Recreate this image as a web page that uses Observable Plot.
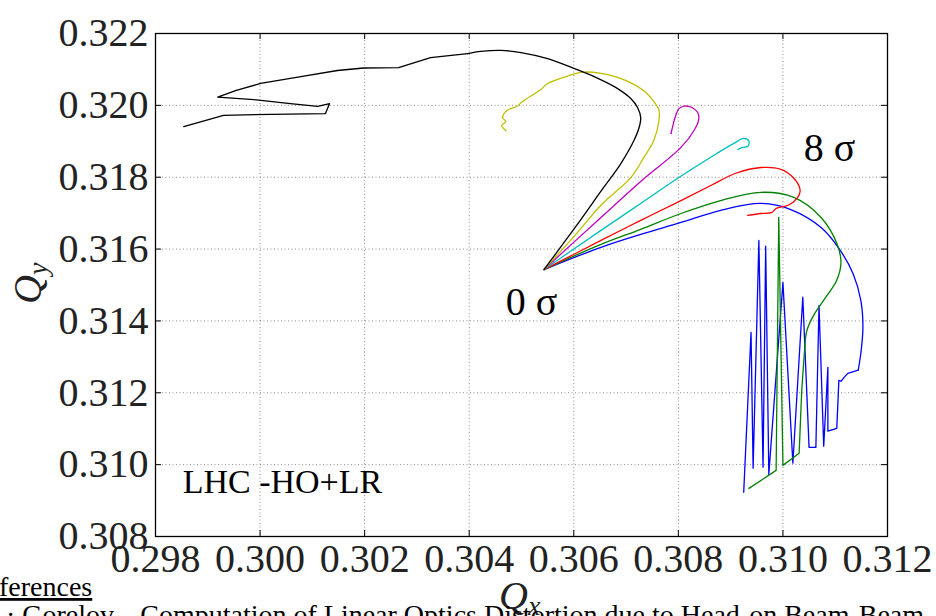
<!DOCTYPE html>
<html>
<head>
<meta charset="utf-8">
<script src="https://cdn.jsdelivr.net/npm/d3@7"></script>
<script src="https://cdn.jsdelivr.net/npm/@observablehq/plot@0.6"></script>
<style>
  html, body { margin: 0; padding: 0; background: #fff; overflow: hidden; }
  #chart { position: relative; width: 936px; height: 616px; overflow: hidden; }
</style>
</head>
<body>
<div id="chart"></div>
<script>
// Tune footprint Qx / Qy from 0 sigma to 8 sigma amplitude, one curve per angle
const xTicks = [0.298, 0.300, 0.302, 0.304, 0.306, 0.308, 0.310, 0.312];
const yTicks = [0.308, 0.310, 0.312, 0.314, 0.316, 0.318, 0.320, 0.322];

const seriesNames   = ["b", "g", "r", "c", "m", "y", "k"];
const seriesColours = ["#0000ff", "#008000", "#ff0000", "#00bfbf", "#bf00bf", "#bfbf00", "#000000"];
// number of leading points of each curve that follow a smooth path (the rest is piecewise straight)
const smoothCount   = [14, 15, 16, 11, 13, 23, 17];

const blueQx = [0.30543,0.30652,0.30728,0.30805,0.30881,0.30958,0.31015,0.31073,0.31107,0.31134,0.31149,0.31153,0.31149,0.31144,0.31124,0.31117,0.31111,0.31107,0.31103,0.31086,0.31086,0.31078,0.31069,0.31063,0.31050,0.31038,0.31019,0.31000,0.30973,0.30967,0.30962,0.30954,0.30943,0.30939,0.30925];
const blueQy = [0.31543,0.31605,0.31641,0.31674,0.31708,0.31727,0.31710,0.31660,0.31602,0.31532,0.31457,0.31382,0.31310,0.31263,0.31254,0.31243,0.31232,0.31235,0.31101,0.31093,0.31271,0.31051,0.31443,0.31048,0.31048,0.31466,0.31004,0.31507,0.30973,0.31608,0.30993,0.31624,0.30990,0.31368,0.30923];

const greenQx = [0.30543,0.30652,0.30728,0.30805,0.30881,0.30958,0.31021,0.31073,0.31103,0.31111,0.31103,0.31082,0.31059,0.31046,0.31042,0.31036,0.31031,0.31000,0.30992,0.30987,0.30935];
const greenQy = [0.31543,0.31613,0.31655,0.31699,0.31735,0.31758,0.31744,0.31688,0.31616,0.31563,0.31513,0.31466,0.31416,0.31374,0.31332,0.31207,0.31032,0.30998,0.31688,0.30984,0.30934];

const redQx = [0.30543,0.30652,0.30728,0.30805,0.30862,0.30910,0.30958,0.30996,0.31021,0.31033,0.31027,0.31010,0.30987,0.30979,0.30958,0.30933];
const redQy = [0.31543,0.31624,0.31680,0.31735,0.31777,0.31811,0.31827,0.31822,0.31797,0.31763,0.31741,0.31722,0.31713,0.31702,0.31699,0.31694];

const cyanQx = [0.30543,0.30652,0.30728,0.30801,0.30868,0.30906,0.30925,0.30935,0.30933,0.30923,0.30914];
const cyanQy = [0.31543,0.31652,0.31727,0.31799,0.31861,0.31894,0.31908,0.31900,0.31886,0.31883,0.31877];

const magentaQx = [0.30543,0.30652,0.30728,0.30805,0.30830,0.30839,0.30837,0.30826,0.30812,0.30801,0.30795,0.30791,0.30786];
const magentaQy = [0.31543,0.31688,0.31788,0.31883,0.31930,0.31961,0.31980,0.31994,0.31998,0.31991,0.31972,0.31952,0.31922];

const yellowQx = [0.30543,0.30604,0.30652,0.30709,0.30734,0.30753,0.30763,0.30763,0.30753,0.30738,0.30700,0.30652,0.30613,0.30581,0.30550,0.30537,0.30502,0.30491,0.30472,0.30464,0.30470,0.30462,0.30470];
const yellowQy = [0.31543,0.31641,0.31722,0.31799,0.31855,0.31902,0.31958,0.31986,0.32011,0.32036,0.32069,0.32089,0.32092,0.32078,0.32061,0.32044,0.32011,0.31997,0.31986,0.31966,0.31955,0.31944,0.31930];

const blackQx = [0.30543,0.30604,0.30652,0.30690,0.30715,0.30726,0.30728,0.30722,0.30709,0.30680,0.30642,0.30600,0.30550,0.30499,0.30460,0.30422,0.30397,0.30326,0.30265,0.30198,0.30148,0.30078,0.30001,0.29953,0.29919,0.29988,0.30058,0.30110,0.30133,0.30125,0.30020,0.29930,0.29854];
const blackQy = [0.31543,0.31663,0.31761,0.31838,0.31902,0.31944,0.31966,0.31994,0.32019,0.32050,0.32078,0.32103,0.32130,0.32147,0.32153,0.32150,0.32144,0.32133,0.32105,0.32104,0.32097,0.32080,0.32061,0.32041,0.32023,0.32016,0.32005,0.31997,0.32005,0.31977,0.31975,0.31972,0.31941];

// Annotations placed in tune space
const noteText = ["8 σ", "0 σ", "LHC -HO+LR"];
const noteQx   = [0.31040, 0.30470, 0.29852];
const noteQy   = [0.31882, 0.31451, 0.30951];
const noteSize = [40, 40, 34];

const qxBySeries = [blueQx, greenQx, redQx, cyanQx, magentaQx, yellowQx, blackQx];
const qyBySeries = [blueQy, greenQy, redQy, cyanQy, magentaQy, yellowQy, blackQy];

// Split every curve into its smooth head and its straight-segment tail (sharing one point)
const smoothRows = [], straightRows = [];
seriesNames.forEach((s, i) => {
  const n = smoothCount[i];
  qxBySeries[i].forEach((qx, j) => {
    const row = {series: s, qx, qy: qyBySeries[i][j]};
    if (j < n) smoothRows.push(row);
    if (j >= n - 1) straightRows.push(row);
  });
});
const notes = noteText.map((t, i) => ({t, qx: noteQx[i], qy: noteQy[i], size: noteSize[i]}));

const W = 936, H = 616;
const mL = 155, mR = 49, mT = 33, mB = 80;
const innerW = W - mL - mR, innerH = H - mT - mB;
const tickLen = 6;
const serif = "'Liberation Serif', 'DejaVu Serif', serif";

const gridStyle = {stroke: "#000", strokeOpacity: 0.45, strokeWidth: 1, strokeDasharray: "1,2.5"};

const chart = Plot.plot({
  width: W, height: H,
  marginLeft: mL, marginRight: mR, marginTop: mT, marginBottom: mB,
  style: {fontFamily: serif, background: "#fff", color: "#000"},
  x: {domain: [0.298, 0.312], label: null},
  y: {domain: [0.308, 0.322], label: null},
  color: {domain: seriesNames, range: seriesColours},
  marks: [
    Plot.gridX(xTicks, gridStyle),
    Plot.gridY(yTicks, gridStyle),
    Plot.line(straightRows, {x: "qx", y: "qy", z: "series", stroke: "series", strokeWidth: 1.3, curve: "linear"}),
    Plot.line(smoothRows, {x: "qx", y: "qy", z: "series", stroke: "series", strokeWidth: 1.3, curve: "catmull-rom"}),
    // inward tick marks on all four sides
    Plot.tickX(xTicks, {x: d => d, insetTop: innerH - tickLen, stroke: "#000"}),
    Plot.tickX(xTicks, {x: d => d, insetBottom: innerH - tickLen, stroke: "#000"}),
    Plot.tickY(yTicks, {y: d => d, insetRight: innerW - tickLen, stroke: "#000"}),
    Plot.tickY(yTicks, {y: d => d, insetLeft: innerW - tickLen, stroke: "#000"}),
    Plot.frame({stroke: "#000", strokeWidth: 1.3}),
    Plot.axisX(xTicks, {tickSize: 0, tickPadding: 7, fontSize: 40, tickFormat: d3.format(".3f"), fill: "#222"}),
    Plot.axisY(yTicks, {tickSize: 0, tickPadding: 7, fontSize: 40, tickFormat: d3.format(".3f"), fill: "#222"}),
    Plot.text(notes, {x: "qx", y: "qy", text: "t", fontSize: "size", textAnchor: "start", lineAnchor: "middle", fill: "#000"})
  ]
});

document.getElementById("chart").appendChild(chart);

const svg = d3.select(chart);

// Axis titles with subscripts
const qx = svg.append("text")
  .attr("x", 499).attr("y", 609).attr("text-anchor", "start")
  .attr("font-family", serif).attr("font-size", 40).attr("fill", "#222");
qx.append("tspan").attr("font-style", "italic").text("Q");
qx.append("tspan").attr("font-style", "italic").attr("font-size", 28).attr("dy", 6).text("x");

const qy = svg.append("text")
  .attr("transform", "translate(41,304) rotate(-90)").attr("text-anchor", "start")
  .attr("font-family", serif).attr("font-size", 40).attr("fill", "#222");
qy.append("tspan").attr("font-style", "italic").text("Q");
qy.append("tspan").attr("font-style", "italic").attr("font-size", 28).attr("dy", 6).text("y");

// Surrounding document text
svg.append("text")
  .attr("x", -1).attr("y", 596).attr("text-anchor", "start")
  .attr("font-family", serif).attr("font-size", 28)
  .attr("text-decoration", "underline").attr("fill", "#000")
  .text("ferences");

svg.append("text")
  .attr("x", 6).attr("y", 624).attr("text-anchor", "start")
  .attr("font-family", serif).attr("font-size", 28).attr("fill", "#000")
  .text("· Gorelov,   Computation of Linear Optics Distortion due to Head-on Beam-Beam");
</script>
</body>
</html>
